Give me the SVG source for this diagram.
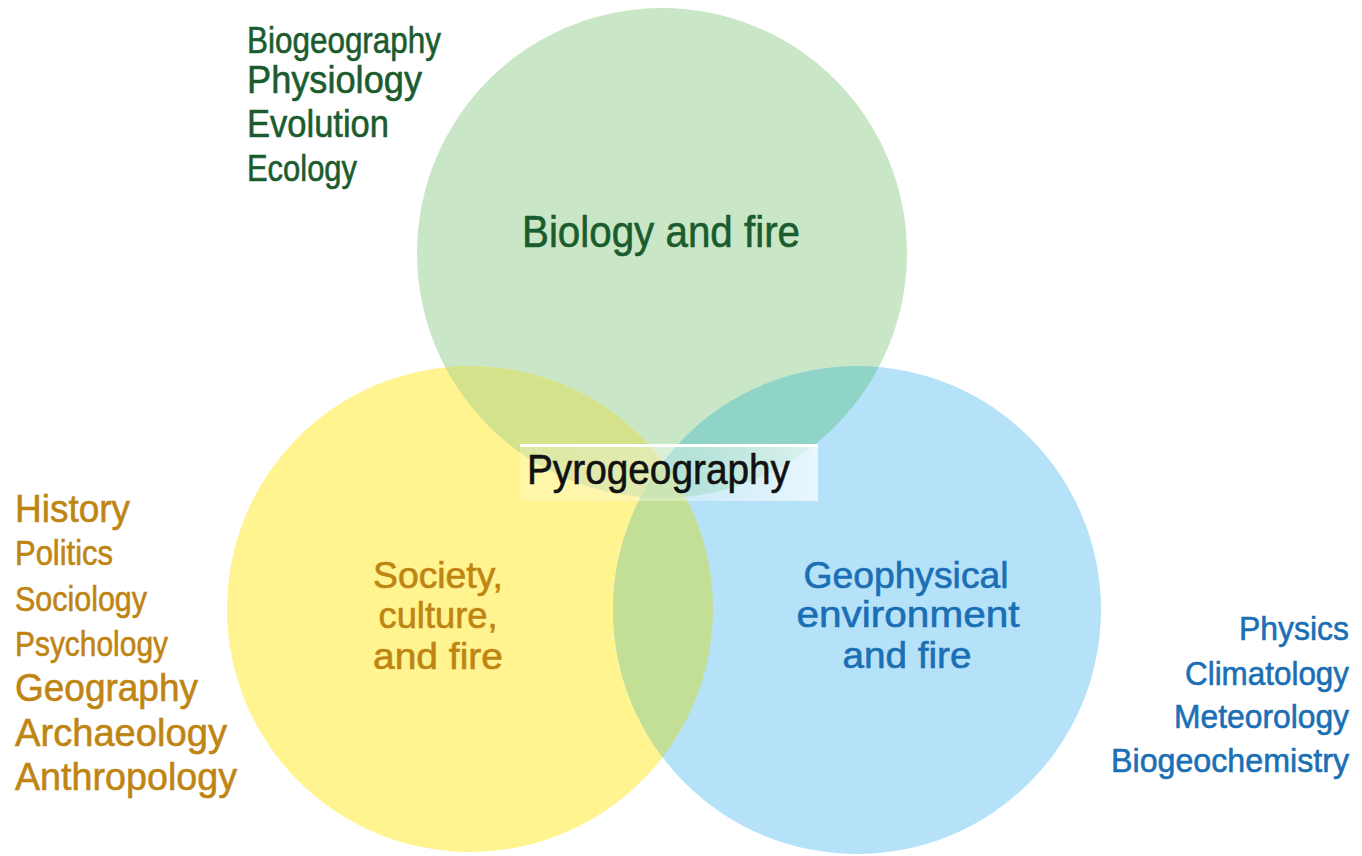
<svg xmlns="http://www.w3.org/2000/svg" width="1362" height="856" viewBox="0 0 1362 856">
<style>
text{font-family:"Liberation Sans",Arial,sans-serif;stroke-width:0.6}
.g{fill:#1b5c2e;stroke:#1b5c2e}
.y{fill:#bf8513;stroke:#bf8513}
.b{fill:#1a6fb5;stroke:#1a6fb5}
.k{fill:#111111;stroke:#111111}
</style>
<defs>
<clipPath id="cG"><circle cx="662" cy="253" r="245"/></clipPath>
<clipPath id="cY"><circle cx="470" cy="609" r="243"/></clipPath>
<linearGradient id="lbl" x1="0" y1="0" x2="1" y2="0">
<stop offset="0" stop-color="#ffffff" stop-opacity="0.2"/>
<stop offset="0.6" stop-color="#ffffff" stop-opacity="0.35"/>
<stop offset="1" stop-color="#ffffff" stop-opacity="0.7"/>
</linearGradient>
</defs>
<rect width="1362" height="856" fill="#ffffff"/>
<g id="circle-biology">
<circle cx="662" cy="253" r="245" fill="#c9e7c6"/>
</g>
<g id="circle-society">
<circle cx="470" cy="609" r="243" fill="#fff490"/>
</g>
<g id="circle-geophysical">
<circle cx="857" cy="610" r="244" fill="#b5e2f8"/>
</g>
<g id="overlaps">
<circle cx="470" cy="609" r="243" fill="#d4e28c" clip-path="url(#cG)"/>
<circle cx="857" cy="610" r="244" fill="#8fd4c6" clip-path="url(#cG)"/>
<circle cx="857" cy="610" r="244" fill="#c3df96" clip-path="url(#cY)"/>
<g clip-path="url(#cG)"><circle cx="857" cy="610" r="244" fill="#b3d890" clip-path="url(#cY)"/></g>
</g>
<g id="labels-circles">
<text class="g" x="661" y="247" font-size="44" text-anchor="middle" textLength="278" lengthAdjust="spacingAndGlyphs">Biology and fire</text>
<text class="y" x="438" y="588" font-size="36" text-anchor="middle" textLength="130" lengthAdjust="spacingAndGlyphs">Society,</text>
<text class="y" x="438" y="628" font-size="36" text-anchor="middle" textLength="119" lengthAdjust="spacingAndGlyphs">culture,</text>
<text class="y" x="438" y="669" font-size="36" text-anchor="middle" textLength="130" lengthAdjust="spacingAndGlyphs">and fire</text>
<text class="b" x="906" y="588" font-size="36" text-anchor="middle" textLength="205" lengthAdjust="spacingAndGlyphs">Geophysical</text>
<text class="b" x="908" y="627" font-size="36" text-anchor="middle" textLength="223" lengthAdjust="spacingAndGlyphs">environment</text>
<text class="b" x="907" y="668" font-size="36" text-anchor="middle" textLength="129" lengthAdjust="spacingAndGlyphs">and fire</text>
</g>
<g id="node-pyrogeography">
<rect x="520" y="445" width="298" height="56" fill="url(#lbl)"/>
<line x1="520" y1="445.5" x2="818" y2="445.5" stroke="#ffffff" stroke-width="3"/>
<text class="k" x="527" y="484" font-size="42" textLength="263" lengthAdjust="spacingAndGlyphs">Pyrogeography</text>
</g>
<g id="list-biology">
<text class="g" x="247" y="53" font-size="36" textLength="194" lengthAdjust="spacingAndGlyphs">Biogeography</text>
<text class="g" x="247" y="93" font-size="38" textLength="175" lengthAdjust="spacingAndGlyphs">Physiology</text>
<text class="g" x="247" y="137" font-size="38" textLength="142" lengthAdjust="spacingAndGlyphs">Evolution</text>
<text class="g" x="247" y="181" font-size="37" textLength="110" lengthAdjust="spacingAndGlyphs">Ecology</text>
</g>
<g id="list-society">
<text class="y" x="15" y="522" font-size="39" textLength="115" lengthAdjust="spacingAndGlyphs">History</text>
<text class="y" x="15" y="565" font-size="35" textLength="98" lengthAdjust="spacingAndGlyphs">Politics</text>
<text class="y" x="15" y="611" font-size="35" textLength="132" lengthAdjust="spacingAndGlyphs">Sociology</text>
<text class="y" x="15" y="656" font-size="35" textLength="153" lengthAdjust="spacingAndGlyphs">Psychology</text>
<text class="y" x="15" y="701" font-size="39" textLength="183" lengthAdjust="spacingAndGlyphs">Geography</text>
<text class="y" x="15" y="746" font-size="39" textLength="212" lengthAdjust="spacingAndGlyphs">Archaeology</text>
<text class="y" x="15" y="790" font-size="39" textLength="222" lengthAdjust="spacingAndGlyphs">Anthropology</text>
</g>
<g id="list-geophysical">
<text class="b" x="1239" y="640" font-size="34" textLength="110" lengthAdjust="spacingAndGlyphs">Physics</text>
<text class="b" x="1185" y="685" font-size="34" textLength="164" lengthAdjust="spacingAndGlyphs">Climatology</text>
<text class="b" x="1174" y="728" font-size="34" textLength="175" lengthAdjust="spacingAndGlyphs">Meteorology</text>
<text class="b" x="1111" y="772" font-size="34" textLength="238" lengthAdjust="spacingAndGlyphs">Biogeochemistry</text>
</g>
</svg>
